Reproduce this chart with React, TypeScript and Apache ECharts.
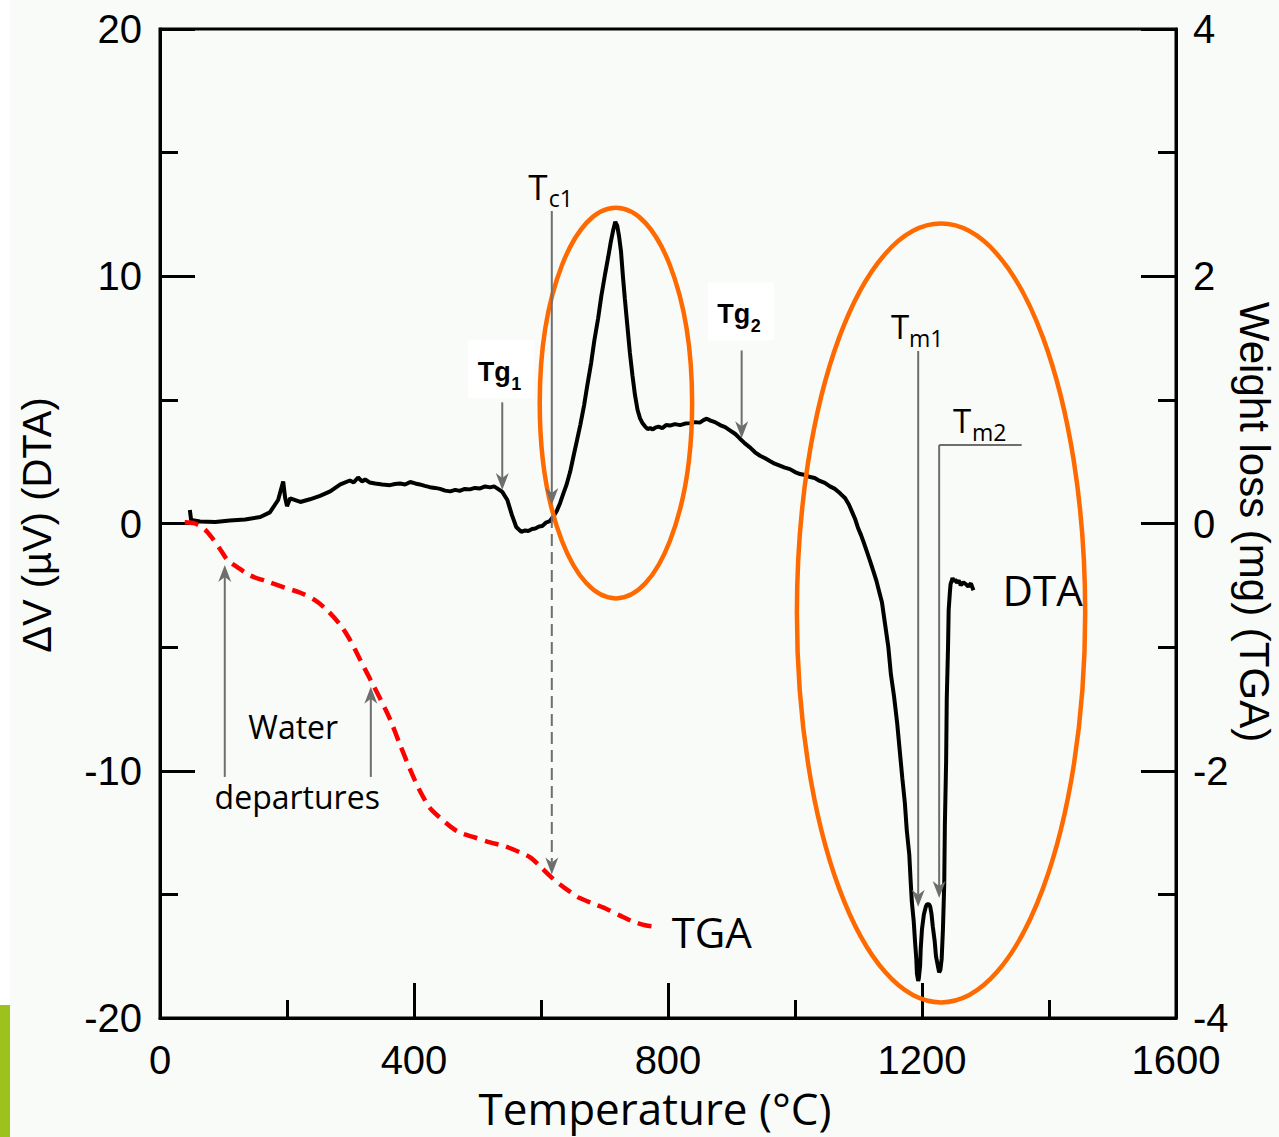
import React, { useEffect, useRef } from "react";
import * as echarts from "echarts";

// ---------- DATA ----------
const dtaTemp = [
  47, 49, 63, 87, 110, 134, 158, 173, 186, 194, 197, 200, 205, 221, 236, 252, 268, 284, 299, 305, 312, 318, 323, 330,
  339, 350, 362, 370, 378, 386, 394, 402, 409, 417, 425, 433, 441, 449, 457, 465, 472, 480, 488, 496, 504, 512, 520,
  526, 531, 539, 547, 554, 561, 569, 575, 580, 586, 591, 597, 602, 608, 614, 620, 625, 630, 635, 640, 646, 651, 657,
  662, 668, 673, 679, 684, 690, 695, 701, 706, 710, 714, 717, 720, 723, 726, 729, 732, 736, 740, 744, 748, 752, 756,
  760, 764, 768, 772, 776, 780, 785, 791, 797, 803, 811, 819, 827, 835, 843, 850, 856, 861, 867, 874, 882, 890, 898,
  906, 913, 921, 929, 937, 945, 953, 961, 968, 976, 984, 992, 1000, 1008, 1016, 1024, 1031, 1039, 1047, 1055, 1063,
  1071, 1079, 1085, 1090, 1095, 1099, 1104, 1109, 1114, 1118, 1123, 1128, 1132, 1137, 1142, 1147, 1151, 1156, 1161,
  1165, 1169, 1173, 1176, 1180, 1182, 1184, 1187, 1189, 1191, 1192, 1194, 1195, 1197, 1198, 1200, 1203, 1206, 1208,
  1211, 1213, 1215, 1217, 1220, 1222, 1225, 1227, 1229, 1231, 1233, 1235, 1236, 1238, 1239, 1241, 1242, 1244, 1245,
  1247, 1248, 1250, 1252, 1255, 1258, 1261, 1265, 1269, 1273, 1277, 1281, 1285, 1289, 1293, 1296, 1299,
];
const dtaSignal = [
  0.55, 0.14, 0.08, 0.06, 0.12, 0.16, 0.26, 0.45, 0.95, 1.7, 1.05, 0.7, 1.02, 0.87, 0.98, 1.12, 1.3, 1.58, 1.74, 1.66,
  1.86, 1.7, 1.78, 1.66, 1.62, 1.58, 1.55, 1.6, 1.62, 1.58, 1.68, 1.62, 1.58, 1.52, 1.47, 1.44, 1.4, 1.33, 1.3, 1.36,
  1.32, 1.4, 1.38, 1.44, 1.42, 1.5, 1.46, 1.5, 1.42, 1.28, 0.95, 0.36, -0.14, -0.34, -0.28, -0.3, -0.22, -0.2, -0.12,
  -0.1, 0.04, 0.1, 0.3, 0.52, 0.82, 1.2, 1.55, 2.1, 2.7, 3.4, 4.0, 4.8, 5.6, 6.5, 7.4, 8.3, 9.2, 10.1, 10.8, 11.4,
  11.9, 12.2, 12.05, 11.6, 11.0, 10.0, 9.1, 8.0, 6.9, 6.0, 5.2, 4.6, 4.25, 4.05, 3.92, 3.82, 3.86, 3.8, 3.88, 3.92,
  3.86, 3.98, 3.96, 4.02, 3.98, 4.04, 4.06, 4.1, 4.08, 4.18, 4.24, 4.16, 4.1, 3.98, 3.9, 3.76, 3.62, 3.44, 3.24, 3.08,
  2.88, 2.74, 2.64, 2.52, 2.42, 2.34, 2.26, 2.2, 2.08, 2.0, 1.96, 1.88, 1.84, 1.72, 1.64, 1.5, 1.4, 1.22, 1.02, 0.76,
  0.46, 0.16, -0.16, -0.47, -0.82, -1.2, -1.5, -1.9, -2.3, -2.7, -3.2, -4.1, -5.0, -6.1, -7.0, -8.1, -9.2, -10.3,
  -11.3, -12.4, -13.4, -14.4, -15.3, -16.1, -16.9, -17.6, -18.2, -18.5, -18.4, -17.9, -17.2, -16.4, -15.8, -15.5,
  -15.4, -15.4, -15.5, -15.8, -16.3, -16.9, -17.5, -17.9, -18.15, -18.05, -17.6, -16.4, -14.6, -12.2, -9.6, -7.1,
  -5.0, -3.5, -2.75, -2.45, -2.3, -2.2, -2.35, -2.26, -2.4, -2.3, -2.5, -2.38, -2.45, -2.55, -2.42, -2.7,
];

const tgaTemp = [
  39, 55, 71, 84, 95, 107, 121, 142, 169, 197, 221, 244, 263, 284, 299, 315, 331, 347, 362, 378, 394, 409, 425, 441,
  457, 472, 496, 520, 543, 567, 583, 598, 614, 630, 646, 661, 685, 704, 724, 745, 764, 780,
];
const tgaLoss = [
  0.01, 0.0, -0.05, -0.13, -0.21, -0.3, -0.35, -0.42, -0.47, -0.52, -0.56, -0.62, -0.7, -0.82, -0.94, -1.1, -1.26,
  -1.42, -1.58, -1.79, -1.99, -2.16, -2.3, -2.38, -2.45, -2.5, -2.54, -2.58, -2.61, -2.66, -2.7, -2.77, -2.85, -2.92,
  -2.98, -3.03, -3.08, -3.12, -3.17, -3.22, -3.25, -3.26,
];

const xTickLabels = ["0", "400", "800", "1200", "1600"];
const leftTickLabels = ["-20", "-10", "0", "10", "20"];
const rightTickLabels = ["-4", "-2", "0", "2", "4"];

// annotation anchors in data coordinates (temperature, ΔV)
const tg1 = { t: 539, top: 4.9, tip: 1.35 };
const tg2 = { t: 916, top: 7.0, tip: 3.45 };
const tc1 = { t: 617, top: 12.64, tip: 0.75, dashTop: 0.3, dashTip: -14.2 };
const tm1 = { t: 1194, top: 6.98, tip: -15.5 };
const tm2 = { t: 1227, top: 3.17, tip: -15.15, tEnd: 1357 };
const water1 = { t: 102, from: -10.25, tip: -1.68 };
const water2 = { t: 332, from: -10.25, tip: -6.6 };
const ellipseA = { t: 718, v: 4.87, rt: 120, rv: 7.9 };
const ellipseB = { t: 1230, v: -3.62, rt: 227, rv: 15.75 };
const waterText = { t: 213, v1: -8.2, v2: -11.05 };
const dtaLabel = { t: 1390, v: -2.65 };
const tgaLabel = { t: 869, v: -16.5 };

const GRAY = "#6e6e6e";
const ORANGE = "#ff6a00";
const NUM_FONT = "Liberation Sans, Arial, sans-serif";
const TXT_FONT = "Open Sans, sans-serif";

export default function App() {
  const ref = useRef<HTMLDivElement>(null);

  useEffect(() => {
    const chart = echarts.init(ref.current!, null, { renderer: "svg" });
    const axisLine = { show: true, onZero: false, lineStyle: { color: "#000", width: 3 } };
    const tick = { show: true, inside: true, length: 35, lineStyle: { color: "#000", width: 3 } };
    const minor = { show: true, splitNumber: 2, length: 18, lineStyle: { color: "#000", width: 3 } };
    const label = (m: number) => ({ fontSize: 40, color: "#000", fontFamily: NUM_FONT, margin: m });

    chart.setOption({
      animation: false,
      backgroundColor: "#f9fbf8",
      grid: { left: 160, right: 103, top: 29, bottom: 119, show: true, borderColor: "#000", borderWidth: 3 },
      xAxis: {
        type: "value",
        min: 0,
        max: 1600,
        interval: 400,
        axisLine,
        axisTick: tick,
        minorTick: minor,
        splitLine: { show: false },
        axisLabel: { ...label(22), formatter: (v: number) => xTickLabels[Math.round(v / 400)] },
      },
      yAxis: [
        {
          type: "value",
          min: -20,
          max: 20,
          interval: 10,
          position: "left",
          axisLine,
          axisTick: tick,
          minorTick: minor,
          splitLine: { show: false },
          axisLabel: { ...label(18), formatter: (v: number) => leftTickLabels[Math.round((v + 20) / 10)] },
        },
        {
          type: "value",
          min: -4,
          max: 4,
          interval: 2,
          position: "right",
          axisLine,
          axisTick: tick,
          minorTick: minor,
          splitLine: { show: false },
          axisLabel: { ...label(17), formatter: (v: number) => rightTickLabels[Math.round((v + 4) / 2)] },
        },
      ],
      series: [
        {
          type: "line",
          name: "DTA",
          yAxisIndex: 0,
          data: dtaTemp.map((t, i) => [t, dtaSignal[i]]),
          showSymbol: false,
          symbol: "none",
          lineStyle: { color: "#000", width: 4 },
          z: 3,
        },
        {
          type: "line",
          name: "TGA",
          yAxisIndex: 1,
          data: tgaTemp.map((t, i) => [t, tgaLoss[i]]),
          showSymbol: false,
          symbol: "none",
          smooth: 0.3,
          lineStyle: { color: "#ff0000", width: 4.5, type: [14, 8] },
          z: 3,
        },
      ],
    });

    const P = (t: number, v: number) => chart.convertToPixel({ xAxisIndex: 0, yAxisIndex: 0 }, [t, v]) as number[];

    const els: any[] = [];
    const line = (x1: number, y1: number, x2: number, y2: number, dash?: number[]) =>
      els.push({
        type: "line",
        z: 20,
        shape: { x1, y1, x2, y2 },
        style: { stroke: GRAY, lineWidth: 2, lineDash: dash || null },
      });
    const head = (x: number, y: number, dir: number) =>
      els.push({
        type: "polygon",
        z: 21,
        shape: {
          points: [
            [x - 6.5, y - dir * 17],
            [x, y - dir * 12],
            [x + 6.5, y - dir * 17],
            [x, y],
          ],
        },
        style: { fill: GRAY },
      });
    const vArrow = (t: number, v1: number, v2: number, dash?: number[]) => {
      const a = P(t, v1);
      const b = P(t, v2);
      const dir = b[1] > a[1] ? 1 : -1;
      line(a[0], a[1], b[0], b[1] - dir * 12, dash);
      head(b[0], b[1], dir);
      return a;
    };
    const text = (x: number, y: number, s: string, size: number, font: string, extra: any = {}) =>
      els.push({
        type: "text",
        z: 30,
        x,
        y,
        rotation: extra.rotation || 0,
        style: {
          text: s,
          fontSize: size,
          fontFamily: font,
          fontWeight: extra.bold ? "bold" : "normal",
          fill: "#000",
          align: "center",
          verticalAlign: "middle",
        },
      });
    const ellipse = (e: { t: number; v: number; rt: number; rv: number }) => {
      const c = P(e.t, e.v);
      const r1 = P(e.t + e.rt, e.v);
      const r2 = P(e.t, e.v + e.rv);
      els.push({
        type: "ellipse",
        z: 15,
        shape: { cx: c[0], cy: c[1], rx: r1[0] - c[0], ry: c[1] - r2[1] },
        style: { fill: "transparent", stroke: ORANGE, lineWidth: 4.5 },
      });
    };

    // frame decorations (page edge)
    els.push({ type: "rect", z: 1, shape: { x: 0, y: 0, width: 10, height: 1005 }, style: { fill: "#ffffff" } });
    els.push({ type: "rect", z: 1, shape: { x: 0, y: 1005, width: 10, height: 132 }, style: { fill: "#9dc21b" } });

    ellipse(ellipseA);
    ellipse(ellipseB);

    // Tg labels with white boxes
    const tgLabel = (a: { t: number; top: number; tip: number }, sub: string, dy: number) => {
      const p = vArrow(a.t, a.top, a.tip);
      els.push({
        type: "rect",
        z: 25,
        shape: { x: p[0] - 34, y: p[1] - 62 + dy, width: 66, height: 58 },
        style: { fill: "#ffffff" },
      });
      text(p[0] - 8, p[1] - 30 + dy, "Tg", 27, NUM_FONT, { bold: true });
      text(p[0] + 14, p[1] - 18 + dy, sub, 18, NUM_FONT, { bold: true });
    };
    tgLabel(tg1, "1", 0);
    tgLabel(tg2, "2", -6);

    // Tc1
    const pc = vArrow(tc1.t, tc1.top, tc1.tip);
    vArrow(tc1.t, tc1.dashTop, tc1.dashTip, [12, 6]);
    text(pc[0] - 14, pc[1] - 24, "T", 35, TXT_FONT);
    text(pc[0] + 9, pc[1] - 13, "c1", 23, TXT_FONT);

    // Tm1
    const pm1 = vArrow(tm1.t, tm1.top, tm1.tip);
    text(pm1[0] - 18, pm1[1] - 24, "T", 33, TXT_FONT);
    text(pm1[0] + 8, pm1[1] - 13, "m1", 23, TXT_FONT);

    // Tm2
    const pm2 = vArrow(tm2.t, tm2.top, tm2.tip);
    const pe = P(tm2.tEnd, tm2.top);
    line(pm2[0], pm2[1], pe[0], pe[1]);
    text(pm2[0] + 23, pm2[1] - 25, "T", 33, TXT_FONT);
    text(pm2[0] + 50, pm2[1] - 13, "m2", 23, TXT_FONT);

    // Water departures
    vArrow(water1.t, water1.from, water1.tip);
    vArrow(water2.t, water2.from, water2.tip);
    const w1 = P(waterText.t, waterText.v1);
    const w2 = P(waterText.t, waterText.v2);
    text(w1[0] - 2, w1[1], "Water", 32, TXT_FONT);
    text(w2[0] + 2, w2[1], "departures", 32, TXT_FONT);

    // curve labels
    const pd = P(dtaLabel.t, dtaLabel.v);
    text(pd[0], pd[1], "DTA", 42, TXT_FONT);
    const pt = P(tgaLabel.t, tgaLabel.v);
    text(pt[0], pt[1], "TGA", 42, TXT_FONT);

    // axis titles
    text(37, 525, "ΔV (µV) (DTA)", 40, NUM_FONT, { rotation: Math.PI / 2 });
    text(1254, 522, "Weight loss (mg) (TGA)", 42, NUM_FONT, { rotation: -Math.PI / 2 });
    text(655, 1108, "Temperature (°C)", 44, TXT_FONT);

    chart.setOption({ graphic: { elements: els } });
    return () => chart.dispose();
  }, []);

  return <div ref={ref} style={{ position: "absolute", left: 0, top: 0, width: 1279, height: 1137 }} />;
}
